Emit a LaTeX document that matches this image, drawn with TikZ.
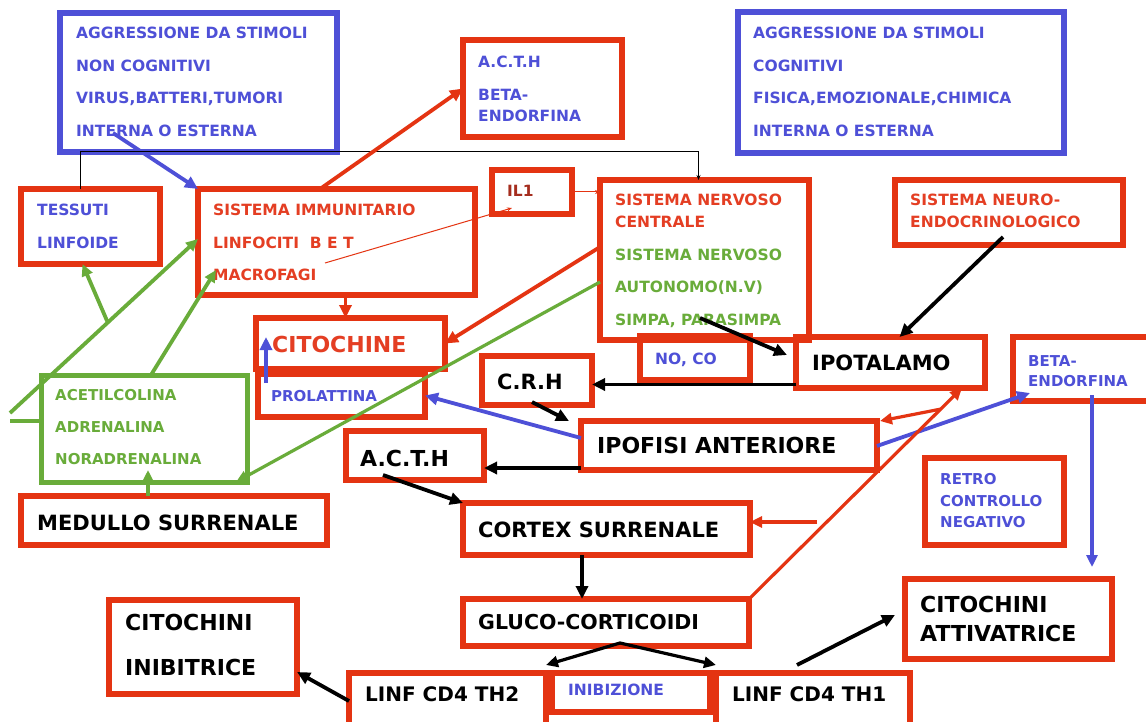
\documentclass[tikz,border=0pt]{standalone}
\usepackage{fontspec}
\setmainfont{DejaVu Sans}
\usetikzlibrary{arrows.meta,fit}
\definecolor{rd}{RGB}{228,52,18}
\definecolor{bl}{RGB}{78,80,215}
\definecolor{gr}{RGB}{105,172,58}
\definecolor{rdt}{RGB}{228,62,35}
\definecolor{ilc}{RGB}{165,45,30}
\tikzset{
  rbox/.style={draw=rd, line width=6pt, inner sep=0pt, outer sep=0pt},
  bbox/.style={draw=bl, line width=6pt, inner sep=0pt, outer sep=0pt},
  gbox/.style={draw=gr, line width=5pt, inner sep=0pt, outer sep=0pt},
  sm/.style={anchor=base west, inner sep=0pt, font=\fontsize{15.5}{18}\selectfont\bfseries},
  smb/.style={sm, text=bl},
  smr/.style={sm, text=rdt},
  smg/.style={sm, text=gr},
  lg/.style={anchor=base west, inner sep=0pt, text=black, font=\fontsize{21}{24}\selectfont\bfseries},
  xl/.style={anchor=base west, inner sep=0pt, text=black, font=\fontsize{22}{24}\selectfont\bfseries},
  ar/.style={line width=3.8pt, -{Triangle[length=13pt,width=12pt]}},
  arthin/.style={line width=3.2pt, -{Triangle[length=12pt,width=11pt]}},
  garr/.style={draw=gr, line width=3.8pt, -{Triangle[length=12pt,width=11pt]}},
  gline/.style={draw=gr, line width=3.8pt},
  thinr/.style={draw=rd, line width=1pt, -{Stealth[length=5pt,width=4pt]}},
  thinb/.style={draw=black, line width=1pt, -{Stealth[length=5pt,width=4pt]}},
}
\begin{document}
\begin{tikzpicture}[x=1pt,y=-1pt]
\useasboundingbox (0,0) rectangle (1146,722);
\fill[white] (0,0) rectangle (1146,722);
\clip (0,0) rectangle (1146,722);

% ---------- boxes ----------
\node[bbox, fit={(60,13)(337,152)}] (agg1) {};
\node[rbox, fit={(463,40)(622,137)}] (acth1) {};
\node[bbox, fit={(738,12)(1064,153)}] (agg2) {};
\node[rbox, fit={(21,189)(160,264)}] (tess) {};
\node[rbox, fit={(198,189)(475,295)}] (imm) {};
\node[rbox, fit={(492,170)(572,214)}] (il1) {};
\node[rbox, fit={(600,180)(809,340)}] (snc) {};
\node[rbox, fit={(895,180)(1123,245)}] (neuro) {};
\node[rbox, fit={(256,318)(445,369)}] (cit) {};
\node[rbox, fit={(258,374)(425,417)}] (prol) {};
\node[gbox, fit={(41,375)(247,482)}] (ace) {};
\node[rbox, fit={(21,496)(327,545)}] (med) {};
\node[rbox, fit={(640,336)(750,380)}] (noco) {};
\node[rbox, fit={(482,356)(592,405)}] (crh) {};
\node[rbox, fit={(796,337)(985,388)}] (ipot) {};
\node[rbox, fit={(1013,337)(1160,401)}] (beta2) {};
\node[rbox, fit={(581,421)(877,470)}] (ipof) {};
\node[rbox, fit={(346,431)(484,480)}] (acth2) {};
\node[rbox, fit={(463,503)(750,555)}] (cortex) {};
\node[rbox, fit={(925,458)(1064,545)}] (retro) {};
\node[rbox, fit={(905,579)(1112,659)}] (attiv) {};
\node[rbox, fit={(463,599)(749,646)}] (gluco) {};
\node[rbox, fit={(109,600)(297,694)}] (inib) {};
\node[rbox, fit={(349,673)(546,735)}] (th2) {};
\node[rbox, fit={(552,673)(710,712)}] (inibz) {};
\node[rbox, fit={(716,673)(910,735)}] (th1) {};

% ---------- texts ----------
\node[smb] (agg1a) at (76,38.5) {AGGRESSIONE DA STIMOLI};
\node[smb] (agg1b) at (76,71.5) {NON COGNITIVI};
\node[smb] (agg1c) at (76,103.5) {VIRUS,BATTERI,TUMORI};
\node[smb] (agg1d) at (76,136.5) {INTERNA O ESTERNA};

\node[smb] (acth1a) at (478,67.5) {A.C.T.H};
\node[smb] (acth1b) at (478,100.5) {BETA-};
\node[smb] (acth1c) at (478,121.5) {ENDORFINA};

\node[smb] (agg2a) at (753,38.5) {AGGRESSIONE DA STIMOLI};
\node[smb] (agg2b) at (753,71.5) {COGNITIVI};
\node[smb] (agg2c) at (753,103.5) {FISICA,EMOZIONALE,CHIMICA};
\node[smb] (agg2d) at (753,136.5) {INTERNA O ESTERNA};

\node[smb] (tessa) at (37,215.5) {TESSUTI};
\node[smb] (tessb) at (37,248.5) {LINFOIDE};

\node[smr] (imma) at (213,215.5) {SISTEMA IMMUNITARIO};
\node[smr] (immb) at (213,248.5) {LINFOCITI\ \ B E T};
\node[smr] (immc) at (213,280.5) {MACROFAGI};

\node[sm, text=ilc] (il1a) at (507,197) {IL1};

\node[smr] (snca) at (615,205.5) {SISTEMA NERVOSO};
\node[smr] (sncb) at (615,227.5) {CENTRALE};
\node[smg] (sncc) at (615,260.5) {SISTEMA NERVOSO};
\node[smg] (sncd) at (615,292.5) {AUTONOMO(N.V)};
\node[smg] (snce) at (615,325.5) {SIMPA, PARASIMPA};

\node[smr] (neuroa) at (910,205.5) {SISTEMA NEURO-};
\node[smr] (neurob) at (910,227.5) {ENDOCRINOLOGICO};

\node[anchor=base west, inner sep=0pt, text=rdt, font=\fontsize{22}{24}\selectfont\bfseries] (cita) at (272,352) {CITOCHINE};
\node[smb, font=\fontsize{15}{18}\selectfont\bfseries] (prola) at (271,401.5) {PROLATTINA};

\node[smg, font=\fontsize{15}{18}\selectfont\bfseries] (acea) at (55,400.5) {ACETILCOLINA};
\node[smg, font=\fontsize{15}{18}\selectfont\bfseries] (aceb) at (55,432.5) {ADRENALINA};
\node[smg, font=\fontsize{15}{18}\selectfont\bfseries] (acec) at (55,464.5) {NORADRENALINA};

\node[lg] (meda) at (37,530) {MEDULLO SURRENALE};
\node[smb] (nocoa) at (655,364) {NO, CO};
\node[lg] (crha) at (497,389) {C.R.H};
\node[lg] (ipota) at (812,370) {IPOTALAMO};
\node[smb, font=\fontsize{15}{18}\selectfont\bfseries] (beta2a) at (1028,366) {BETA-};
\node[smb, font=\fontsize{15}{18}\selectfont\bfseries] (beta2b) at (1028,386) {ENDORFINA};
\node[xl] (ipofa) at (597,453.5) {IPOFISI ANTERIORE};
\node[xl] (acth2a) at (360,466) {A.C.T.H};
\node[lg] (cortexa) at (478,537.5) {CORTEX SURRENALE};
\node[smb, font=\fontsize{15}{18}\selectfont\bfseries] (retroa) at (940,484) {RETRO};
\node[smb, font=\fontsize{15}{18}\selectfont\bfseries] (retrob) at (940,506) {CONTROLLO};
\node[smb, font=\fontsize{15}{18}\selectfont\bfseries] (retroc) at (940,527) {NEGATIVO};
\node[xl] (attiva) at (920,612) {CITOCHINI};
\node[xl] (attivb) at (920,641) {ATTIVATRICE};
\node[anchor=base west, inner sep=0pt, font=\fontsize{20.5}{24}\selectfont\bfseries] (glucoa) at (478,629) {GLUCO-CORTICOIDI};
\node[xl] (iniba) at (125,630) {CITOCHINI};
\node[xl] (inibb) at (125,675) {INIBITRICE};
\node[anchor=base west, inner sep=0pt, font=\fontsize{20}{24}\selectfont\bfseries] (th2a) at (365,701) {LINF CD4 TH2};
\node[smb, font=\fontsize{15.5}{18}\selectfont\bfseries] (inibza) at (568,695) {INIBIZIONE};
\node[anchor=base west, inner sep=0pt, font=\fontsize{20}{24}\selectfont\bfseries] (th1a) at (732,701) {LINF CD4 TH1};

% ---------- free end coordinates ----------
\coordinate (a1) at (113,133);
\coordinate (d1) at (325,263);
\coordinate (d2) at (512,208);
\coordinate (i1e) at (216,270);
\coordinate (lft1) at (10,413);
\coordinate (lft2) at (10,421);
\coordinate (n1) at (700,318);

% ---------- connectors ----------
\draw[ar, draw=bl] (a1) -- (imm.north west);
\draw[thinb] ([xshift=-10pt]tess.north) |- ([xshift=-6pt,yshift=28pt]snc.north) -- ([xshift=-6pt]snc.north);
\draw[ar, draw=rd] ([xshift=122pt]imm.north west) -- (acth1.west);
\draw[thinr] (d1) -- (d2);
\draw[thinr] (il1.east) -- (il1.east -| snc.west);
\draw[ar, draw=rd] ([xshift=-5pt,yshift=23pt]cit.north) -- ([xshift=-5pt]cit.north);
\draw[ar, draw=rd] ([yshift=-67pt]snc.north west) -- (cit.east);

% green
\draw[garr, line width=3.2pt] ([yshift=-102pt]snc.north west) -- ([xshift=-11pt]ace.south east);
\draw[garr] ([xshift=110pt]ace.north west) -- (i1e);
\draw[garr] (lft1) -- coordinate[pos=0.52] (br) ([yshift=-50pt]imm.north west);
\draw[garr] (br) -- ([xshift=-8pt]tess.south);
\draw[gline] (lft2) -- (lft2 -| ace.west);
\draw[garr] ([xshift=-26pt]med.north) -- ([xshift=4pt,yshift=12pt]ace.south);

% blue
\draw[ar, draw=bl] ([xshift=8pt,yshift=-9pt]prol.north west) -- ([xshift=10pt,yshift=-19pt]cit.north west);
\draw[ar, draw=bl] ([yshift=-17pt]ipof.north west) -- (prol.east);
\draw[ar, draw=bl] ([yshift=-25pt]ipof.north east) -- ([xshift=17pt,yshift=-56pt]beta2.north west);
\draw[arthin, draw=bl] ([xshift=79pt,yshift=-58pt]beta2.north west) -- ([xshift=83.5pt,yshift=12pt]attiv.north);

% black
\draw[ar] ([yshift=3.5pt]ipot.south west) -- ([yshift=-4pt]crh.east);
\draw[ar] (n1) -- ([xshift=-9pt,yshift=-18pt]ipot.north west);
\draw[ar] ([xshift=108pt,yshift=8pt]neuro.south west) -- ([xshift=9pt]ipot.north);
\draw[ar] ([xshift=50pt,yshift=3pt]crh.south west) -- ([xshift=-12pt]ipof.north west);
\draw[ar] ([yshift=2pt]ipof.south west) -- ([yshift=-12.5pt]acth2.east);
\draw[ar] ([xshift=37pt,yshift=5pt]acth2.south west) -- (cortex.north west);
\draw[ar] ([xshift=119pt]cortex.south west) -- ([xshift=119pt]gluco.north west);
\draw[line width=3.2pt, {Triangle[length=12pt,width=11pt]}-{Triangle[length=12pt,width=11pt]}] ([yshift=8pt]th2.north east) -- ([xshift=14pt,yshift=3pt]gluco.south) -- ([yshift=8pt]th1.north west);
\draw[ar] ([yshift=3pt]th2.west) -- ([yshift=-25pt]inib.east);
\draw[ar] ([xshift=81pt,yshift=8pt]th1.north west) -- ([xshift=-10pt,yshift=-36pt]attiv.north west);

% red feedback
\draw[arthin, draw=rd] (gluco.north east) -- coordinate[pos=0.9] (tv) ([xshift=-23pt]ipot.south east);
\draw[arthin, draw=rd] (tv) -- ([xshift=3pt]ipof.north east);
\draw[arthin, draw=rd] ([xshift=67pt,yshift=7pt]cortex.east) -- ([yshift=7pt]cortex.east);
\end{tikzpicture}
\end{document}
